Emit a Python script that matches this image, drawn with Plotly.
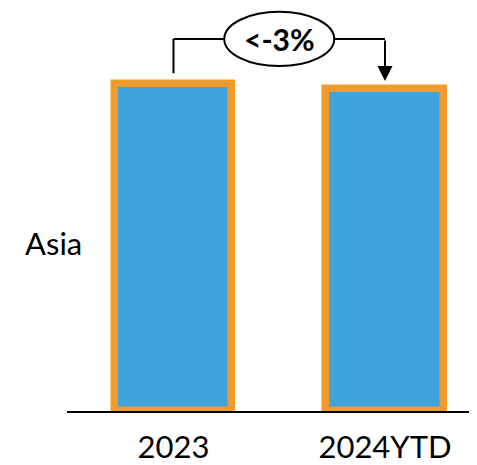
import plotly.graph_objects as go

categories = ["2023", "2024YTD"]
values = [100, 98.5]
change_label = "<-3%"
row_label = "Asia"

BLUE = "#40A3DC"
ORANGE = "#F09B2C"
FONT = "Lato"

# page has an 8px body margin; figure is sized/offset to compensate
W, H = 469, 457
ML, MB, MT = 59, 49, 0
plot_h = H - MB - MT
px_per_unit = 3.31
y_top = plot_h / px_per_unit

bracket_gap = 13.8      # bracket height above tallest bar (data units)
start_gap = 3.3          # gap between bar1 top and bracket start
arrow_gap = 2.4          # gap between arrow tip and bar2 top
ell_half_w = 0.26
ell_half_h = 8.3

fig = go.Figure()
fig.add_trace(go.Bar(
    x=[0, 1], y=values, width=0.556,
    marker=dict(color=BLUE, line=dict(color=ORANGE, width=7.5)),
    hoverinfo="skip",
))

yb = max(values) + bracket_gap
xm = 0.5
shapes = [
    dict(type="line", xref="x", yref="y", x0=0, x1=0, y0=values[0] + start_gap, y1=yb,
         line=dict(color="black", width=2)),
    dict(type="line", xref="x", yref="y", x0=0, x1=xm - ell_half_w, y0=yb, y1=yb,
         line=dict(color="black", width=2)),
    dict(type="line", xref="x", yref="y", x0=xm + ell_half_w, x1=1, y0=yb, y1=yb,
         line=dict(color="black", width=2)),
    dict(type="circle", xref="x", yref="y", x0=xm - ell_half_w, x1=xm + ell_half_w,
         y0=yb - ell_half_h, y1=yb + ell_half_h,
         line=dict(color="black", width=2), fillcolor="white"),
]

annotations = [
    dict(x=1, y=values[1] + arrow_gap, ax=1, ay=yb, xref="x", yref="y", axref="x", ayref="y",
         text="", showarrow=True, arrowhead=2, arrowsize=1.5, arrowwidth=2, arrowcolor="black",
         standoff=0),
    dict(x=xm, y=yb, xref="x", yref="y", text="<b>%s</b>" % change_label.replace("<", "&lt;"),
         showarrow=False, font=dict(family=FONT, size=30, color="black")),
    dict(x=-13.5 / 410, y=(plot_h - (245.5 - 8)) / plot_h, xref="paper", yref="paper",
         text=row_label, showarrow=False, xanchor="center", yanchor="middle",
         font=dict(family=FONT, size=31, color="black")),
]

fig.update_layout(
    width=W, height=H,
    margin=dict(l=ML, r=0, t=MT, b=MB),
    paper_bgcolor="white", plot_bgcolor="white",
    showlegend=False,
    bargap=0,
    shapes=shapes,
    annotations=annotations,
    xaxis=dict(tickmode="array", tickvals=[0, 1], ticktext=categories,
               range=[-0.5035, 1.435], showline=True, linecolor="black", linewidth=2,
               showgrid=False, zeroline=False, ticks="", ticklabelstandoff=8,
               tickfont=dict(family=FONT, size=31, color="black")),
    yaxis=dict(range=[0, y_top], visible=False, showgrid=False, zeroline=False),
)

fig.write_html("out.html")
